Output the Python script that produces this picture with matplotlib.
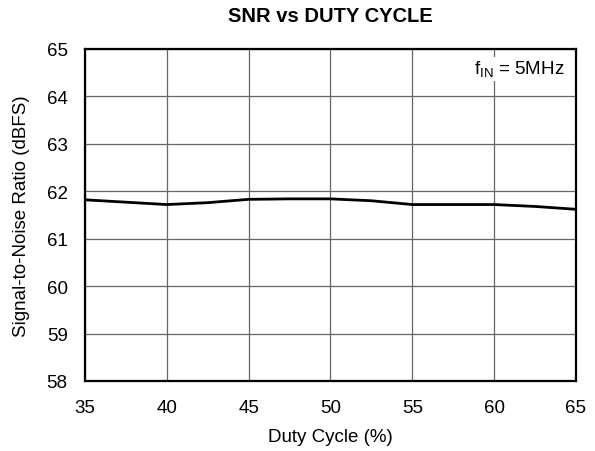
import matplotlib
matplotlib.use('Agg')
import matplotlib.pyplot as plt

plt.rcParams['font.family'] = ['Liberation Sans', 'DejaVu Sans']

# Data
duty_cycle = [35, 37.5, 40, 42.5, 45, 47.5, 50, 52.5, 55, 57.5, 60, 62.5, 65]
snr = [61.82, 61.77, 61.72, 61.76, 61.83, 61.84, 61.84, 61.80, 61.72, 61.72, 61.72, 61.68, 61.62]
x_ticks = [35, 40, 45, 50, 55, 60, 65]
y_ticks = [58, 59, 60, 61, 62, 63, 64, 65]

fig = plt.figure(figsize=(5.95, 4.52), dpi=100)
ax = fig.add_axes([0.1429, 0.1549, 0.8251, 0.7345])

ax.plot(duty_cycle, snr, color='black', linewidth=2.0)

ax.set_xlim(35, 65)
ax.set_ylim(58, 65)
ax.set_xticks(x_ticks)
ax.set_yticks(y_ticks)
ax.grid(True, color='#666666', linewidth=0.9)
ax.tick_params(axis='x', length=0, labelsize=13.5, pad=13)
ax.tick_params(axis='y', length=0, labelsize=13.5, pad=12.5)
for s in ax.spines.values():
    s.set_linewidth(1.6)

ax.set_xlabel('Duty Cycle (%)', fontsize=13.5)
ax.xaxis.set_label_coords(0.5, -0.142)
ax.set_ylabel('Signal-to-Noise Ratio (dBFS)', fontsize=13.5)
ax.yaxis.set_label_coords(-0.112, 0.5)

fig.text(330 / 595, 1 - 22 / 452, 'SNR vs DUTY CYCLE', ha='center', va='baseline',
         fontsize=14.5, fontweight='bold')

ax.text(0.977, 0.94, r'f$_{\mathregular{IN}}$ = 5MHz', transform=ax.transAxes,
        ha='right', va='center', fontsize=13.5,
        bbox=dict(facecolor='white', edgecolor='none', pad=1.5))

fig.savefig('out.png', dpi=100)
